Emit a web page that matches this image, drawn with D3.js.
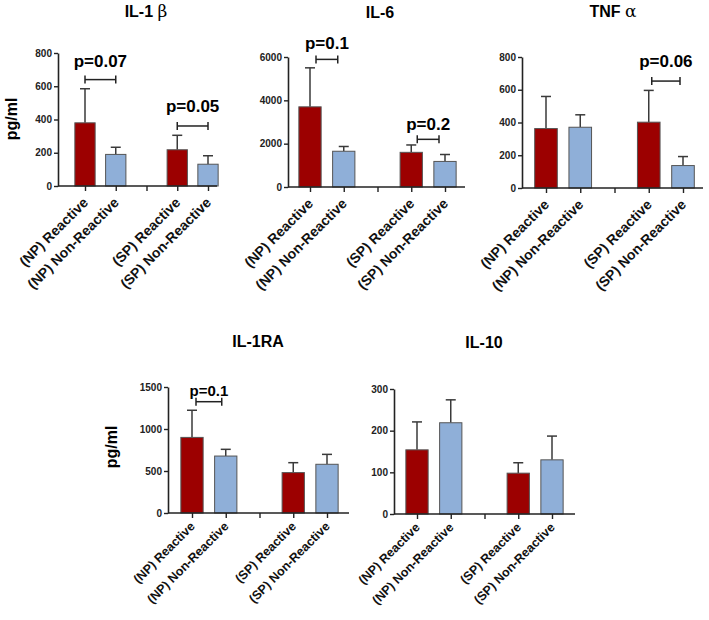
<!DOCTYPE html>
<html>
<head>
<meta charset="utf-8">
<script src="https://cdn.jsdelivr.net/npm/d3@7"></script>
<style>
  body { margin: 0; background: #fff; }
  svg { display: block; }
  text { font-family: "Liberation Sans", Arial, sans-serif; }
</style>
</head>
<body>
<script>
const width = 709, height = 620;

// categories (the "gap" slot is the empty tick between the two groups)
const slots = ["(NP) Reactive", "(NP) Non-Reactive", "gap", "(SP) Reactive", "(SP) Non-Reactive"];
const groups = ["(NP) Reactive", "(NP) Non-Reactive", "(SP) Reactive", "(SP) Non-Reactive"];
const reactive = ["(NP) Reactive", "(SP) Reactive"];

// mean and SD (upper error bar), pg/ml
const il1bMean = [380, 190, 218, 131];
const il1bSd   = [205, 43, 87, 51];
const il1bTicks = [0, 200, 400, 600, 800];

const il6Mean = [3700, 1650, 1600, 1180];
const il6Sd   = [1800, 220, 340, 320];
const il6Ticks = [0, 2000, 4000, 6000];

const tnfMean = [363, 371, 402, 137];
const tnfSd   = [196, 76, 194, 55];
const tnfTicks = [0, 200, 400, 600, 800];

const il1raMean = [900, 678, 481, 580];
const il1raSd   = [323, 80, 118, 118];
const il1raTicks = [0, 500, 1000, 1500];

const il10Mean = [154, 219, 98, 130];
const il10Sd   = [67, 55, 25, 57];
const il10Ticks = [0, 100, 200, 300];

// p-value brackets: [first group, second group, level in pg/ml, label]
const il1bP = [["(NP) Reactive", "(NP) Non-Reactive", 640, "p=0.07"],
               ["(SP) Reactive", "(SP) Non-Reactive", 361, "p=0.05"]];
const il6P  = [["(NP) Reactive", "(NP) Non-Reactive", 5890, "p=0.1"],
               ["(SP) Reactive", "(SP) Non-Reactive", 2200, "p=0.2"]];
const tnfP  = [["(SP) Reactive", "(SP) Non-Reactive", 653, "p=0.06"]];
const il1raP = [["(NP) Reactive", "(NP) Non-Reactive", 1325, "p=0.1"]];
const il10P = [];

const red = "#9c0000", blue = "#8fafd8";

const panels = [
  { title: "IL-1 ", greek: "\u03b2", mean: il1bMean, sd: il1bSd, ticks: il1bTicks, p: il1bP,
    x0: 58, x1: 217, t0: 85, t1: 208, y0: 186, yTop: 53, tx: 146, ty: 17,
    ylab: [11, 119], lab: 14, labOff: 14, pf: 17, pGap: [13, 14], inset: 0 },
  { title: "IL-6", mean: il6Mean, sd: il6Sd, ticks: il6Ticks, p: il6P,
    x0: 288, x1: 465, t0: 310, t1: 445, y0: 187, yTop: 57, tx: 380, ty: 18,
    lab: 14, labOff: 14, pf: 17, pGap: [10, 9], inset: 6 },
  { title: "TNF ", greek: "\u03b1", mean: tnfMean, sd: tnfSd, ticks: tnfTicks, p: tnfP,
    x0: 522, x1: 703, t0: 546, t1: 683, y0: 188, yTop: 57, tx: 613, ty: 17,
    lab: 14, labOff: 14, pf: 17, pGap: [14], inset: 3 },
  { title: "IL-1RA", mean: il1raMean, sd: il1raSd, ticks: il1raTicks, p: il1raP,
    x0: 168, x1: 349, t0: 192, t1: 327, y0: 513, yTop: 387, tx: 258, ty: 347,
    ylab: [111, 447], lab: 12.5, labOff: 11, pf: 15, pGap: [6], inset: 4 },
  { title: "IL-10", mean: il10Mean, sd: il10Sd, ticks: il10Ticks, p: il10P,
    x0: 394, x1: 575, t0: 417, t1: 552, y0: 514, yTop: 389, tx: 484, ty: 348,
    lab: 12.5, labOff: 11, pf: 15, pGap: [], inset: 0 }
];

const svg = d3.select("body").append("svg")
  .attr("width", width)
  .attr("height", height);

panels.forEach((pn) => {
  let g = svg.append("g");

  let x = d3.scalePoint().domain(slots).range([pn.t0, pn.t1]);
  let y = d3.scaleLinear().domain([0, d3.max(pn.ticks)]).range([pn.y0, pn.yTop]);
  let bw = x.step() * 0.66;

  let rows = groups.map((name, i) => ({ name, mean: pn.mean[i], sd: pn.sd[i] }));

  // error bars (upper only)
  let err = g.append("g").attr("stroke", "#3a3a3a").attr("stroke-width", 1.5);
  rows.forEach((d) => {
    let cx = x(d.name), top = y(d.mean + d.sd);
    err.append("line").attr("x1", cx).attr("x2", cx).attr("y1", y(d.mean)).attr("y2", top);
    err.append("line").attr("x1", cx - 5).attr("x2", cx + 5).attr("y1", top).attr("y2", top);
  });

  // bars
  g.append("g").selectAll("rect")
    .data(rows)
    .join("rect")
    .attr("x", (d) => x(d.name) - bw / 2)
    .attr("y", (d) => y(d.mean))
    .attr("width", bw)
    .attr("height", (d) => pn.y0 - y(d.mean))
    .attr("fill", (d) => reactive.includes(d.name) ? red : blue)
    .attr("stroke", "#555")
    .attr("stroke-width", 1);

  // y axis
  let ya = g.append("g")
    .attr("transform", `translate(${pn.x0},0)`)
    .call(d3.axisLeft(y).tickValues(pn.ticks).tickFormat(d3.format("d"))
      .tickSize(4).tickSizeOuter(0).tickPadding(2));
  ya.select(".domain").attr("stroke", "#222").attr("stroke-width", 1.6);
  ya.selectAll(".tick line").attr("stroke", "#222").attr("stroke-width", 1.4);
  ya.selectAll("text").attr("font-size", 10).attr("font-weight", "bold").attr("fill", "#222")
    .style("font-family", "'Liberation Sans', Arial, sans-serif");

  // x axis
  let xa = g.append("g")
    .attr("transform", `translate(0,${pn.y0})`)
    .call(d3.axisBottom(x).tickSize(5).tickSizeOuter(0).tickFormat((d) => d === "gap" ? "" : d));
  xa.select(".domain").remove();
  xa.selectAll(".tick line").attr("stroke", "#222").attr("stroke-width", 1.4);
  xa.selectAll("text")
    .attr("x", 0).attr("y", 0).attr("dy", "0.35em")
    .attr("text-anchor", "end")
    .attr("transform", `translate(0,${pn.labOff}) rotate(-45)`)
    .attr("font-size", pn.lab).attr("font-weight", "bold").attr("fill", "#111")
    .style("font-family", "'Liberation Sans', Arial, sans-serif");
  g.append("line")
    .attr("x1", pn.x0).attr("x2", pn.x1)
    .attr("y1", pn.y0).attr("y2", pn.y0)
    .attr("stroke", "#222").attr("stroke-width", 1.6);

  // title
  let t = g.append("text")
    .attr("x", pn.tx).attr("y", pn.ty)
    .attr("text-anchor", "middle")
    .attr("font-size", 16).attr("font-weight", "bold").attr("fill", "#000")
    .text(pn.title);
  if (pn.greek) {
    t.append("tspan")
      .attr("font-family", "'DejaVu Serif', 'Liberation Serif', serif")
      .attr("font-weight", "normal").attr("font-size", 17)
      .text(pn.greek);
  }

  // y label
  if (pn.ylab) {
    g.append("text")
      .attr("transform", `translate(${pn.ylab[0]},${pn.ylab[1]}) rotate(-90)`)
      .attr("text-anchor", "middle").attr("dy", "0.35em")
      .attr("font-size", 16).attr("font-weight", "bold").attr("fill", "#000")
      .text("pg/ml");
  }

  // significance brackets
  pn.p.forEach((pv, i) => {
    let [a, b, level, label] = pv;
    let xa1 = x(a) + pn.inset, xb1 = x(b) - pn.inset, by = y(level);
    let br = g.append("g").attr("stroke", "#222").attr("stroke-width", 1.5).attr("fill", "none");
    br.append("line").attr("x1", xa1).attr("x2", xb1).attr("y1", by).attr("y2", by);
    br.append("line").attr("x1", xa1).attr("x2", xa1).attr("y1", by - 4).attr("y2", by + 4);
    br.append("line").attr("x1", xb1).attr("x2", xb1).attr("y1", by - 4).attr("y2", by + 4);
    g.append("text")
      .attr("x", (xa1 + xb1) / 2).attr("y", by - pn.pGap[i])
      .attr("text-anchor", "middle")
      .attr("font-size", pn.pf).attr("font-weight", "bold").attr("fill", "#000")
      .text(label);
  });
});
</script>
</body>
</html>
